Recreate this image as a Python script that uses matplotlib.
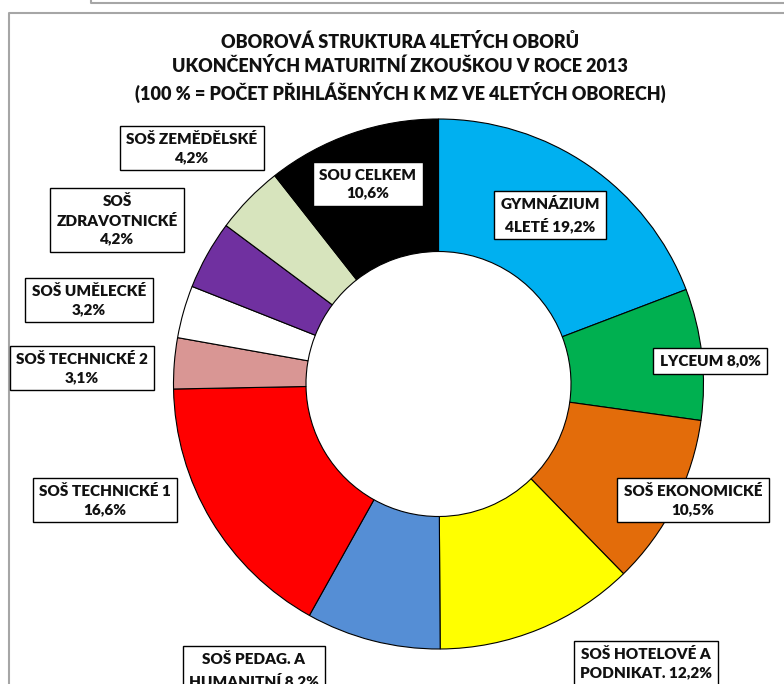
import numpy as np
import matplotlib.pyplot as plt

plt.rcParams['font.family'] = ['Lato', 'DejaVu Sans']

# slice data, clockwise from the top
labels = ['GYMNÁZIUM\n4LETÉ 19,2%', 'LYCEUM 8,0%', 'SOŠ EKONOMICKÉ\n10,5%',
          'SOŠ HOTELOVÉ A\nPODNIKAT. 12,2%', 'SOŠ PEDAG. A\nHUMANITNÍ 8,2%',
          'SOŠ TECHNICKÉ 1\n16,6%', 'SOŠ TECHNICKÉ 2\n3,1%', 'SOŠ UMĚLECKÉ\n3,2%',
          'SOŠ\nZDRAVOTNICKÉ\n4,2%', 'SOŠ ZEMĚDĚLSKÉ\n4,2%', 'SOU CELKEM\n10,6%']
values = [19.2, 8.0, 10.5, 12.2, 8.2, 16.6, 3.1, 3.2, 4.2, 4.2, 10.6]
colors = ['#00B0F0', '#00B050', '#E36C0A', '#FFFF00', '#558ED5', '#FF0000',
          '#D99694', '#FFFFFF', '#7030A0', '#D7E4BD', '#000000']
# label box centres in pixel coords (x, y from top)
label_pos = [(550, 215), (710, 361), (693, 500), (646, 663), (254, 670),
             (105, 500), (82, 368), (89, 300), (117, 220), (192, 148), (368, 184)]

W, H = 784, 684
fig = plt.figure(figsize=(W / 100, H / 100), dpi=100)
ax = fig.add_axes([0, 0, 1, 1])

# frames
grey = '#A6A6A6'
ax.plot([9, 9, W], [0, H - 13, H - 13], color=grey, lw=1.5)
ax.plot([91, 91, W], [H, H - 3, H - 3], color=grey, lw=1.5)

cx, cy, r = 438.5, H - 384, 265
ax.pie(values, colors=colors, startangle=90, counterclock=False,
       center=(cx, cy), radius=r, frame=True,
       wedgeprops=dict(width=r * 0.5, edgecolor='black', linewidth=0.8))
ax.set_xlim(0, W)
ax.set_ylim(0, H)
ax.axis('off')

for lab, (x, y) in zip(labels, label_pos):
    ax.text(x, H - y, lab, ha='center', va='center', multialignment='center',
            fontsize=11, fontweight='heavy', linespacing=1.45, color='#111111',
            bbox=dict(boxstyle='square,pad=0.42', fc='white', ec='black', lw=1))

ax.text(400, H - 68, 'OBOROVÁ STRUKTURA 4LETÝCH OBORŮ\n'
        'UKONČENÝCH MATURITNÍ ZKOUŠKOU V ROCE 2013\n'
        '(100 % = POČET PŘIHLÁŠENÝCH K MZ VE 4LETÝCH OBORECH)',
        ha='center', va='center', fontsize=13, fontweight='heavy',
        linespacing=1.4, color='#111111')

fig.savefig('out.png', dpi=100)
